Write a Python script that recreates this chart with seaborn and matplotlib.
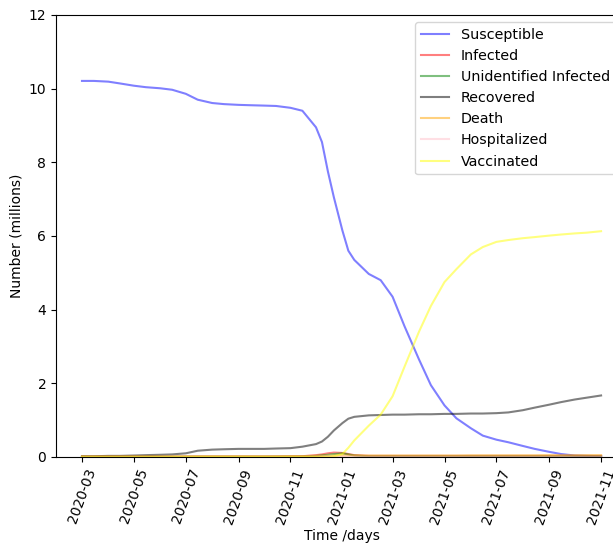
import matplotlib

matplotlib.use("Agg")

import matplotlib.dates as mdates
import matplotlib.pyplot as plt
import pandas as pd
import seaborn as sns

# roughly semi-monthly sample dates (denser around the steep drop)
dates = pd.to_datetime([
    "2020-03-01", "2020-03-15", "2020-04-01", "2020-04-15", "2020-05-01", "2020-05-15",
    "2020-06-01", "2020-06-15", "2020-07-01", "2020-07-15", "2020-08-01", "2020-08-15",
    "2020-09-01", "2020-09-15", "2020-10-01", "2020-10-15", "2020-11-01", "2020-11-15",
    "2020-12-01", "2020-12-08", "2020-12-15", "2020-12-22", "2021-01-01", "2021-01-08",
    "2021-01-15", "2021-02-01", "2021-02-15",
    "2021-03-01", "2021-03-15", "2021-04-01", "2021-04-15", "2021-05-01", "2021-05-15",
    "2021-06-01", "2021-06-15", "2021-07-01", "2021-07-15", "2021-08-01", "2021-08-15",
    "2021-09-01", "2021-09-15", "2021-10-01", "2021-10-15", "2021-11-01",
])

susceptible = [
    10.21, 10.21, 10.19, 10.14, 10.08, 10.04, 10.01, 9.97, 9.86, 9.70, 9.61, 9.58,
    9.56, 9.55, 9.54, 9.53, 9.48, 9.40, 8.95, 8.55, 7.75, 7.05, 6.15, 5.60,
    5.35, 4.97, 4.80,
    4.35, 3.55, 2.65, 1.95, 1.40, 1.05, 0.78, 0.58, 0.47, 0.40, 0.30, 0.22,
    0.14, 0.08, 0.04, 0.03, 0.02,
]
infected = [
    0.005, 0.005, 0.005, 0.005, 0.005, 0.005, 0.005, 0.005, 0.008, 0.01, 0.01, 0.01,
    0.01, 0.01, 0.01, 0.012, 0.015, 0.02, 0.05, 0.07, 0.10, 0.12, 0.11, 0.08,
    0.05, 0.03, 0.03,
    0.03, 0.03, 0.03, 0.03, 0.03, 0.03, 0.03, 0.03, 0.03, 0.03, 0.03, 0.03,
    0.03, 0.03, 0.03, 0.03, 0.03,
]
unidentified = [
    0.004, 0.004, 0.004, 0.004, 0.004, 0.004, 0.004, 0.004, 0.006, 0.008, 0.008, 0.008,
    0.008, 0.008, 0.008, 0.01, 0.012, 0.015, 0.03, 0.045, 0.06, 0.08, 0.10, 0.07,
    0.04, 0.02, 0.02,
    0.02, 0.02, 0.02, 0.02, 0.02, 0.02, 0.02, 0.02, 0.02, 0.02, 0.02, 0.02,
    0.02, 0.02, 0.02, 0.02, 0.02,
]
recovered = [
    0.02, 0.02, 0.03, 0.03, 0.04, 0.05, 0.06, 0.07, 0.10, 0.17, 0.20, 0.21,
    0.22, 0.22, 0.22, 0.23, 0.24, 0.28, 0.35, 0.42, 0.55, 0.72, 0.92, 1.04,
    1.09, 1.13, 1.14,
    1.15, 1.15, 1.16, 1.16, 1.17, 1.17, 1.18, 1.18, 1.19, 1.21, 1.27, 1.34,
    1.42, 1.49, 1.56, 1.61, 1.67,
]
death = [
    0.02, 0.02, 0.02, 0.02, 0.02, 0.02, 0.02, 0.02, 0.02, 0.02, 0.02, 0.02,
    0.02, 0.02, 0.02, 0.02, 0.025, 0.025, 0.03, 0.032, 0.035, 0.038, 0.04, 0.04,
    0.04, 0.04, 0.04,
    0.04, 0.04, 0.04, 0.04, 0.04, 0.04, 0.045, 0.045, 0.045, 0.045, 0.045, 0.045,
    0.05, 0.05, 0.05, 0.05, 0.05,
]
hospitalized = [
    0.002, 0.002, 0.002, 0.002, 0.002, 0.002, 0.002, 0.002, 0.003, 0.003, 0.003, 0.003,
    0.003, 0.003, 0.003, 0.004, 0.005, 0.006, 0.01, 0.012, 0.015, 0.015, 0.015, 0.012,
    0.01, 0.008, 0.008,
    0.008, 0.008, 0.008, 0.008, 0.008, 0.008, 0.008, 0.008, 0.008, 0.008, 0.008, 0.008,
    0.008, 0.008, 0.008, 0.008, 0.008,
]
vaccinated = [
    0.0, 0.0, 0.0, 0.0, 0.0, 0.0, 0.0, 0.0, 0.0, 0.0, 0.0, 0.0,
    0.0, 0.0, 0.0, 0.0, 0.0, 0.0, 0.0, 0.0, 0.0, 0.02, 0.08, 0.25,
    0.45, 0.85, 1.15,
    1.65, 2.45, 3.40, 4.10, 4.75, 5.10, 5.50, 5.70, 5.84, 5.89, 5.94, 5.97,
    6.01, 6.04, 6.07, 6.09, 6.13,
]

series = [
    ("Susceptible", susceptible, "blue"),
    ("Infected", infected, "red"),
    ("Unidentified Infected", unidentified, "green"),
    ("Recovered", recovered, "black"),
    ("Death", death, "orange"),
    ("Hospitalized", hospitalized, "pink"),
    ("Vaccinated", vaccinated, "yellow"),
]

fig = plt.figure(figsize=(6.13, 5.43), dpi=100)
ax = fig.add_axes([0.0914, 0.1584, 0.9315, 0.814])

for label, values, color in series:
    sns.lineplot(x=dates, y=values, color=color, alpha=0.5, linewidth=1.5, label=label, ax=ax)

ax.set_ylim(0, 12)
ax.xaxis.set_major_locator(mdates.MonthLocator(bymonth=[1, 3, 5, 7, 9, 11]))
ax.xaxis.set_major_formatter(mdates.DateFormatter("%Y-%m"))
plt.setp(ax.get_xticklabels(), rotation=70)
ax.set_xlabel("Time /days", labelpad=2)
ax.set_ylabel("Number (millions)")
ax.legend(loc="upper left", bbox_to_anchor=(415 / 613, 1 - 22 / 543),
          bbox_transform=fig.transFigure, borderaxespad=0, fontsize=10.3)

fig.savefig("out.png", dpi=100, facecolor="white")
